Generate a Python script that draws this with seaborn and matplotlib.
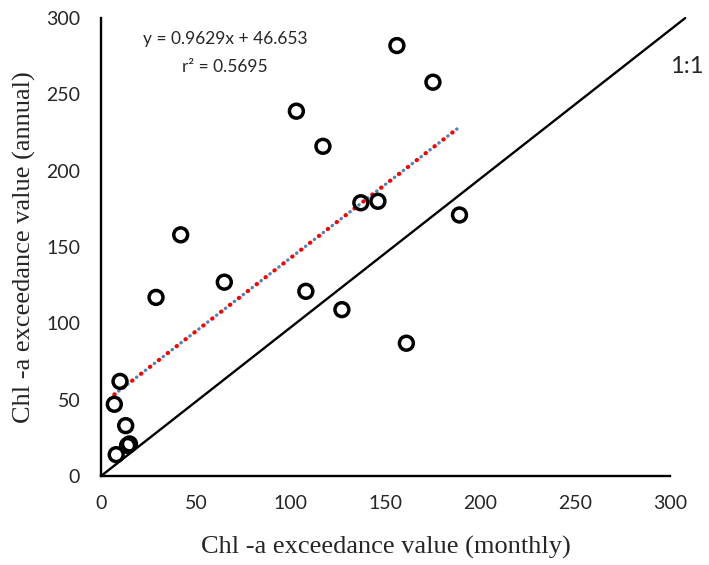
import matplotlib
matplotlib.use("Agg")
import matplotlib.pyplot as plt
import numpy as np
import pandas as pd
import seaborn as sns

# Chl-a exceedance values
monthly = [7, 10, 13, 14, 15, 8, 29, 42, 65, 103, 108, 117, 127, 137, 146, 156, 161, 175, 189]
annual = [47, 62, 33, 20, 21, 14, 117, 158, 127, 239, 121, 216, 109, 179, 180, 282, 87, 258, 171]

# trendline as printed on the chart
slope = 0.9629
intercept = 46.653
r2 = 0.5695

ticks = [0, 50, 100, 150, 200, 250, 300]

df = pd.DataFrame({"monthly": monthly, "annual": annual})

sns.set_style("white")
plt.rcParams["font.family"] = ["Lato", "DejaVu Sans"]

fig = plt.figure(figsize=(7.09, 5.65), dpi=100)
ax = fig.add_axes([0.1425, 0.1575, 0.8025, 0.8105])

# 1:1 line
ax.plot([0, 308], [0, 300], color="black", lw=1.7, clip_on=False, zorder=1)

# linear fit, red and blue dotted lines on top of each other
xs = np.array([min(monthly), max(monthly)])
ys = slope * xs + intercept
ax.plot(xs, ys, color="red", lw=3.0, ls=(0, (0.1, 2.6)), dash_capstyle="round", zorder=2)
ax.plot(xs, ys, color="#4f81bd", lw=2.4, ls=(1.69, (0.1, 3.275)), dash_capstyle="round", zorder=2)

sns.scatterplot(data=df, x="monthly", y="annual", ax=ax, s=100, marker="o",
                facecolor="none", edgecolor="black", linewidth=2.5, zorder=3)

ax.set_xlim(0, 300)
ax.set_ylim(0, 300)
ax.set_xticks(ticks)
ax.set_yticks(ticks)
ax.tick_params(length=0, labelsize=14)
ax.tick_params(axis="x", pad=14)
ax.tick_params(axis="y", pad=15)
for s in ["top", "right"]:
    ax.spines[s].set_visible(False)
for s in ["left", "bottom"]:
    ax.spines[s].set_color("black")
    ax.spines[s].set_linewidth(1.7)

ax.set_xlabel("Chl -a exceedance value (monthly)", fontfamily="Liberation Serif",
              fontsize=19, labelpad=17)
ax.set_ylabel("Chl -a exceedance value (annual)", fontfamily="Liberation Serif",
              fontsize=19, labelpad=7)

ax.text(0.218, 0.955, f"y = {slope}x + {intercept}", transform=ax.transAxes,
        fontsize=12.5, ha="center", va="center")
ax.text(0.218, 0.893, f"r² = {r2}", transform=ax.transAxes,
        fontsize=12.5, ha="center", va="center")
ax.text(1.03, 0.895, "1:1", transform=ax.transAxes, fontsize=17, ha="center", va="center")

fig.savefig("out.png", dpi=100)
